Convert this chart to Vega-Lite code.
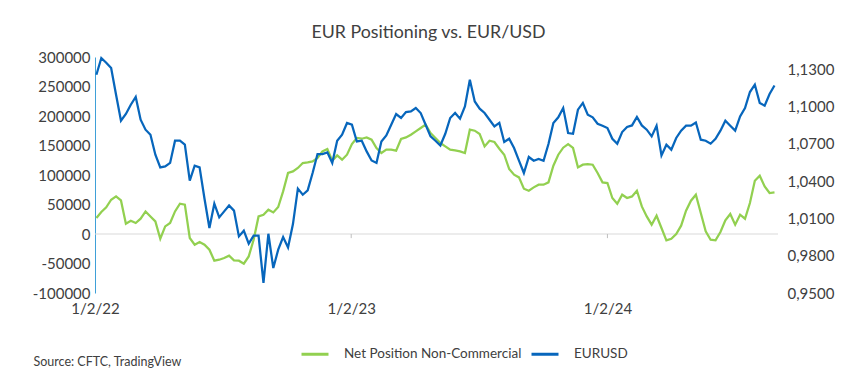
{
  "$schema": "https://vega.github.io/schema/vega-lite/v6.json",
  "width": 683,
  "height": 236,
  "autosize": {"type": "none"},
  "padding": {"left": 95, "top": 57, "right": 74, "bottom": 91},
  "background": "white",
  "title": {"text": "EUR Positioning vs. EUR/USD", "fontSize": 17.8, "font": "Lato", "fontWeight": "normal", "color": "#404040", "anchor": "middle", "frame": "group", "dx": -8, "offset": 8},
  "config": {
    "view": {"stroke": null},
    "axis": {"grid": false, "labelFont": "Lato", "titleFont": "Lato", "labelColor": "#595959", "labelFontSize": 15, "labelOverlap": false},
    "legend": {"labelFont": "Lato"}
  },
  "datasets": {
    "main": [
      {"date": "2022-01-04", "net": 27100, "eurusd": 1.1257},
      {"date": "2022-01-11", "net": 37300, "eurusd": 1.1392},
      {"date": "2022-01-18", "net": 45100, "eurusd": 1.1354},
      {"date": "2022-01-25", "net": 58100, "eurusd": 1.1311},
      {"date": "2022-02-01", "net": 63700, "eurusd": 1.1096},
      {"date": "2022-02-08", "net": 56900, "eurusd": 1.0887},
      {"date": "2022-02-15", "net": 17500, "eurusd": 1.0941},
      {"date": "2022-02-22", "net": 22500, "eurusd": 1.1016},
      {"date": "2022-03-01", "net": 18600, "eurusd": 1.1078},
      {"date": "2022-03-08", "net": 25900, "eurusd": 1.0895},
      {"date": "2022-03-15", "net": 38300, "eurusd": 1.0815},
      {"date": "2022-03-22", "net": 29800, "eurusd": 1.0774},
      {"date": "2022-03-29", "net": 21400, "eurusd": 1.0613},
      {"date": "2022-04-05", "net": -8000, "eurusd": 1.0511},
      {"date": "2022-04-12", "net": 12900, "eurusd": 1.0519},
      {"date": "2022-04-19", "net": 18600, "eurusd": 1.0547},
      {"date": "2022-04-26", "net": 38300, "eurusd": 1.0726},
      {"date": "2022-05-03", "net": 51400, "eurusd": 1.0726},
      {"date": "2022-05-10", "net": 49700, "eurusd": 1.0694},
      {"date": "2022-05-17", "net": -6800, "eurusd": 1.0404},
      {"date": "2022-05-24", "net": -18100, "eurusd": 1.0525},
      {"date": "2022-05-31", "net": -13600, "eurusd": 1.0511},
      {"date": "2022-06-07", "net": -18100, "eurusd": 1.0259},
      {"date": "2022-06-14", "net": -26600, "eurusd": 1.0023},
      {"date": "2022-06-21", "net": -45300, "eurusd": 1.0219},
      {"date": "2022-06-28", "net": -43600, "eurusd": 1.0109},
      {"date": "2022-07-05", "net": -40700, "eurusd": 1.0157},
      {"date": "2022-07-12", "net": -36800, "eurusd": 1.0205},
      {"date": "2022-07-19", "net": -44700, "eurusd": 1.0163},
      {"date": "2022-07-26", "net": -45300, "eurusd": 0.9956},
      {"date": "2022-08-02", "net": -50300, "eurusd": 1.0002},
      {"date": "2022-08-09", "net": -38000, "eurusd": 0.9897},
      {"date": "2022-08-16", "net": -9700, "eurusd": 0.9961},
      {"date": "2022-08-23", "net": 29800, "eurusd": 0.9961},
      {"date": "2022-08-30", "net": 32700, "eurusd": 0.9581},
      {"date": "2022-09-06", "net": 41200, "eurusd": 0.9977},
      {"date": "2022-09-13", "net": 36600, "eurusd": 0.9701},
      {"date": "2022-09-20", "net": 45800, "eurusd": 0.9849},
      {"date": "2022-09-27", "net": 72200, "eurusd": 0.9951},
      {"date": "2022-10-04", "net": 103400, "eurusd": 0.9867},
      {"date": "2022-10-11", "net": 106100, "eurusd": 1.0055},
      {"date": "2022-10-18", "net": 111900, "eurusd": 1.0340},
      {"date": "2022-10-25", "net": 120300, "eurusd": 1.0291},
      {"date": "2022-11-01", "net": 121400, "eurusd": 1.0326},
      {"date": "2022-11-08", "net": 123000, "eurusd": 1.0466},
      {"date": "2022-11-15", "net": 128800, "eurusd": 1.0619},
      {"date": "2022-11-22", "net": 140000, "eurusd": 1.0619},
      {"date": "2022-11-29", "net": 144100, "eurusd": 1.0632},
      {"date": "2022-12-06", "net": 124200, "eurusd": 1.0547},
      {"date": "2022-12-13", "net": 133200, "eurusd": 1.0726},
      {"date": "2022-12-20", "net": 125900, "eurusd": 1.0774},
      {"date": "2022-12-27", "net": 134400, "eurusd": 1.0869},
      {"date": "2023-01-03", "net": 152500, "eurusd": 1.0855},
      {"date": "2023-01-10", "net": 162700, "eurusd": 1.0720},
      {"date": "2023-01-17", "net": 161500, "eurusd": 1.0726},
      {"date": "2023-01-24", "net": 163700, "eurusd": 1.0640},
      {"date": "2023-01-31", "net": 159800, "eurusd": 1.0567},
      {"date": "2023-02-07", "net": 145800, "eurusd": 1.0547},
      {"date": "2023-02-14", "net": 137300, "eurusd": 1.0720},
      {"date": "2023-02-21", "net": 142900, "eurusd": 1.0769},
      {"date": "2023-02-28", "net": 142900, "eurusd": 1.0855},
      {"date": "2023-03-07", "net": 141200, "eurusd": 1.0941},
      {"date": "2023-03-14", "net": 161000, "eurusd": 1.0909},
      {"date": "2023-03-21", "net": 163700, "eurusd": 1.0957},
      {"date": "2023-03-28", "net": 168300, "eurusd": 1.0962},
      {"date": "2023-04-04", "net": 173900, "eurusd": 1.0989},
      {"date": "2023-04-11", "net": 179700, "eurusd": 1.0949},
      {"date": "2023-04-18", "net": 185300, "eurusd": 1.0855},
      {"date": "2023-04-25", "net": 171200, "eurusd": 1.0761},
      {"date": "2023-05-02", "net": 162700, "eurusd": 1.0726},
      {"date": "2023-05-09", "net": 154200, "eurusd": 1.0688},
      {"date": "2023-05-16", "net": 148500, "eurusd": 1.0782},
      {"date": "2023-05-23", "net": 142900, "eurusd": 1.0909},
      {"date": "2023-05-30", "net": 141700, "eurusd": 1.0949},
      {"date": "2023-06-06", "net": 140000, "eurusd": 1.0903},
      {"date": "2023-06-13", "net": 137300, "eurusd": 1.1002},
      {"date": "2023-06-20", "net": 176800, "eurusd": 1.1217},
      {"date": "2023-06-27", "net": 175100, "eurusd": 1.1042},
      {"date": "2023-07-04", "net": 169500, "eurusd": 1.0984},
      {"date": "2023-07-11", "net": 148500, "eurusd": 1.0949},
      {"date": "2023-07-18", "net": 158100, "eurusd": 1.0895},
      {"date": "2023-07-25", "net": 155900, "eurusd": 1.0841},
      {"date": "2023-08-01", "net": 144600, "eurusd": 1.0869},
      {"date": "2023-08-08", "net": 134400, "eurusd": 1.0716},
      {"date": "2023-08-15", "net": 110200, "eurusd": 1.0742},
      {"date": "2023-08-22", "net": 100500, "eurusd": 1.0667},
      {"date": "2023-08-29", "net": 95900, "eurusd": 1.0565},
      {"date": "2023-09-05", "net": 76800, "eurusd": 1.0466},
      {"date": "2023-09-12", "net": 73400, "eurusd": 1.0595},
      {"date": "2023-09-19", "net": 79000, "eurusd": 1.0565},
      {"date": "2023-09-26", "net": 83600, "eurusd": 1.0579},
      {"date": "2023-10-03", "net": 83600, "eurusd": 1.0565},
      {"date": "2023-10-10", "net": 87500, "eurusd": 1.0699},
      {"date": "2023-10-17", "net": 115800, "eurusd": 1.0869},
      {"date": "2023-10-24", "net": 134400, "eurusd": 1.0914},
      {"date": "2023-10-31", "net": 146300, "eurusd": 1.0989},
      {"date": "2023-11-07", "net": 152200, "eurusd": 1.0788},
      {"date": "2023-11-14", "net": 145800, "eurusd": 1.0782},
      {"date": "2023-11-21", "net": 112900, "eurusd": 1.0976},
      {"date": "2023-11-28", "net": 117500, "eurusd": 1.1030},
      {"date": "2023-12-05", "net": 118600, "eurusd": 1.0935},
      {"date": "2023-12-12", "net": 117500, "eurusd": 1.0914},
      {"date": "2023-12-19", "net": 103400, "eurusd": 1.0863},
      {"date": "2023-12-26", "net": 87500, "eurusd": 1.0847},
      {"date": "2024-01-02", "net": 86400, "eurusd": 1.0828},
      {"date": "2024-01-09", "net": 61000, "eurusd": 1.0742},
      {"date": "2024-01-16", "net": 51400, "eurusd": 1.0702},
      {"date": "2024-01-23", "net": 66600, "eurusd": 1.0796},
      {"date": "2024-01-30", "net": 61000, "eurusd": 1.0836},
      {"date": "2024-02-06", "net": 63700, "eurusd": 1.0849},
      {"date": "2024-02-13", "net": 73400, "eurusd": 1.0917},
      {"date": "2024-02-20", "net": 46800, "eurusd": 1.0849},
      {"date": "2024-02-27", "net": 29800, "eurusd": 1.0815},
      {"date": "2024-03-05", "net": 15800, "eurusd": 1.0761},
      {"date": "2024-03-12", "net": 31000, "eurusd": 1.0847},
      {"date": "2024-03-19", "net": 10200, "eurusd": 1.0608},
      {"date": "2024-03-26", "net": -10800, "eurusd": 1.0694},
      {"date": "2024-04-02", "net": -8000, "eurusd": 1.0654},
      {"date": "2024-04-09", "net": 0, "eurusd": 1.0748},
      {"date": "2024-04-16", "net": 14100, "eurusd": 1.0807},
      {"date": "2024-04-23", "net": 39500, "eurusd": 1.0847},
      {"date": "2024-04-30", "net": 56400, "eurusd": 1.0847},
      {"date": "2024-05-07", "net": 66600, "eurusd": 1.0873},
      {"date": "2024-05-14", "net": 35600, "eurusd": 1.0734},
      {"date": "2024-05-21", "net": 4400, "eurusd": 1.0726},
      {"date": "2024-05-28", "net": -9700, "eurusd": 1.0702},
      {"date": "2024-06-04", "net": -10800, "eurusd": 1.0742},
      {"date": "2024-06-11", "net": 3400, "eurusd": 1.0807},
      {"date": "2024-06-18", "net": 23100, "eurusd": 1.0887},
      {"date": "2024-06-25", "net": 33900, "eurusd": 1.0847},
      {"date": "2024-07-02", "net": 15800, "eurusd": 1.0807},
      {"date": "2024-07-09", "net": 32700, "eurusd": 1.0922},
      {"date": "2024-07-16", "net": 25900, "eurusd": 1.0989},
      {"date": "2024-07-23", "net": 52500, "eurusd": 1.1118},
      {"date": "2024-07-30", "net": 90300, "eurusd": 1.1177},
      {"date": "2024-08-06", "net": 98800, "eurusd": 1.1030},
      {"date": "2024-08-13", "net": 80700, "eurusd": 1.1008},
      {"date": "2024-08-20", "net": 69500, "eurusd": 1.1102},
      {"date": "2024-08-27", "net": 70500, "eurusd": 1.1171}
    ],
    "yearTicks": [{"date": "2023-01-02"}, {"date": "2024-01-02"}],
    "baseline": [{"level": 0}]
  },
  "layer": [
    {
      "layer": [
        {
          "data": {"name": "baseline"},
          "mark": {"type": "rule", "color": "#d9d9d9", "strokeWidth": 1},
          "encoding": {
            "y": {
              "field": "level", "type": "quantitative", "title": null,
              "scale": {"domain": [-100000, 300000]},
              "axis": {
                "orient": "left",
                "values": [-100000, -50000, 0, 50000, 100000, 150000, 200000, 250000, 300000],
                "tickCount": 20,
                "labelExpr": "'' + datum.value",
                "labelOverlap": false,
                "domain": true, "domainColor": "#3fa0d8", "domainWidth": 1,
                "ticks": false, "labelPadding": 5, "labelColor": "#404040"
              }
            }
          }
        },
        {
          "data": {"name": "yearTicks"},
          "mark": {"type": "rule", "color": "#bfbfbf", "strokeWidth": 1},
          "encoding": {
            "x": {"field": "date", "type": "temporal", "title": "Source: CFTC, TradingView"},
            "y": {"datum": 0, "type": "quantitative", "title": null},
            "y2": {"datum": -7000}
          }
        },
        {
          "data": {"name": "main"},
          "mark": {"type": "line", "strokeWidth": 2.25, "interpolate": "linear"},
          "encoding": {
            "x": {
              "field": "date", "type": "temporal", "title": "Source: CFTC, TradingView",
              "scale": {"domain": ["2022-01-02", "2024-09-01"]},
              "axis": {
                "values": [{"year": 2022, "month": 1, "date": 2}, {"year": 2023, "month": 1, "date": 2}, {"year": 2024, "month": 1, "date": 2}],
                "tickCount": 20,
                "format": "%-m/%-d/%y",
                "domain": false, "ticks": false, "labelPadding": 8, "labelFlush": false, "labelOverlap": false,
                "labelColor": "#404040",
                "titleX": -62, "titleY": 68, "titleAlign": "left", "titleBaseline": "middle", "titleAnchor": null,
                "titleFontSize": 12.5, "titleFontWeight": "normal", "titleColor": "#404040"
              }
            },
            "y": {
              "field": "net", "type": "quantitative", "title": null,
              "scale": {"domain": [-100000, 300000]},
              "axis": {
                "orient": "left",
                "values": [-100000, -50000, 0, 50000, 100000, 150000, 200000, 250000, 300000],
                "tickCount": 20,
                "labelExpr": "'' + datum.value",
                "labelOverlap": false,
                "domain": true, "domainColor": "#3fa0d8", "domainWidth": 1,
                "ticks": false, "labelPadding": 5, "labelColor": "#404040"
              }
            },
            "color": {
              "datum": "Net Position Non-Commercial",
              "scale": {"domain": ["Net Position Non-Commercial", "EURUSD"], "range": ["#92d050", "#0766bc"]},
              "legend": {
                "title": null, "orient": "none", "direction": "horizontal",
                "legendX": 205, "legendY": 282,
                "symbolType": "stroke", "symbolSize": 729, "symbolStrokeWidth": 3,
                "labelFontSize": 13.5, "labelColor": "#404040", "labelOffset": 14, "columnPadding": 3, "labelLimit": 400
              }
            }
          }
        }
      ]
    },
    {
      "data": {"name": "main"},
      "mark": {"type": "line", "strokeWidth": 2.25, "interpolate": "linear"},
      "encoding": {
        "x": {"field": "date", "type": "temporal", "title": "Source: CFTC, TradingView"},
        "y": {
          "field": "eurusd", "type": "quantitative", "title": null,
          "scale": {"domain": [0.95, 1.14], "zero": false},
          "axis": {
            "orient": "right",
            "values": [0.95, 0.98, 1.01, 1.04, 1.07, 1.1, 1.13],
            "tickCount": 20,
            "labelExpr": "replace(format(datum.value, '.4f'), '.', ',')",
            "labelOverlap": false,
            "domain": false, "ticks": false, "labelPadding": 9, "labelColor": "#404040"
          }
        },
        "color": {"datum": "EURUSD"}
      }
    }
  ],
  "resolve": {"scale": {"y": "independent"}}
}
